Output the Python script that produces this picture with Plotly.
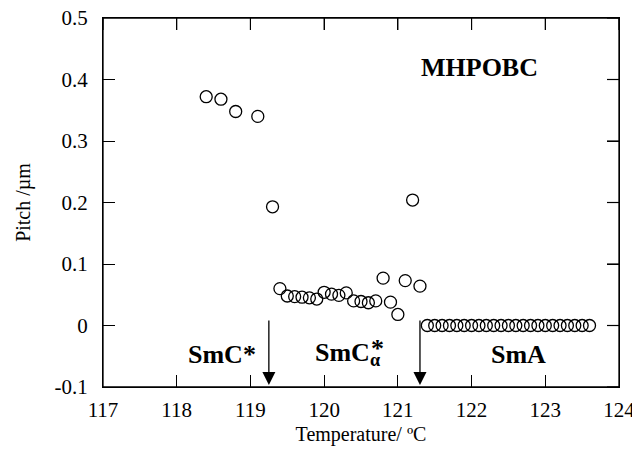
import plotly.graph_objects as go

# ---- data ----
temp = [118.4, 118.6, 118.8, 119.1, 119.3, 119.4, 119.5, 119.6, 119.7, 119.8,
        119.9, 120.0, 120.1, 120.2, 120.3, 120.4, 120.5, 120.6, 120.7, 120.8,
        120.9, 121.0, 121.1, 121.2, 121.3]
pitch = [0.372, 0.368, 0.348, 0.340, 0.193, 0.060, 0.048, 0.047, 0.046, 0.045,
         0.043, 0.054, 0.051, 0.049, 0.053, 0.040, 0.039, 0.037, 0.040, 0.077,
         0.038, 0.018, 0.073, 0.204, 0.064]
temp_sma = [121.4, 121.5, 121.6, 121.7, 121.8, 121.9, 122.0, 122.1, 122.2, 122.3,
            122.4, 122.5, 122.6, 122.7, 122.8, 122.9, 123.0, 123.1, 123.2, 123.3,
            123.4, 123.5, 123.6]
pitch_sma = [0.0] * len(temp_sma)

x_ticks = [117, 118, 119, 120, 121, 122, 123, 124]
x_ticktext = ["117", "118", "119", "120", "121", "122", "123", "124"]
y_ticks = [-0.1, 0.0, 0.1, 0.2, 0.3, 0.4, 0.5]
y_ticktext = ["-0.1", "0", "0.1", "0.2", "0.3", "0.4", "0.5"]

transitions = [119.25, 121.30]

SERIF = "Liberation Serif"

fig = go.Figure()
marker = dict(symbol="circle-open", size=12, color="black", line=dict(width=1.3, color="black"))
fig.add_trace(go.Scatter(x=temp + temp_sma, y=pitch + pitch_sma, mode="markers",
                         marker=marker, showlegend=False, cliponaxis=False))

tickfont = dict(family=SERIF, size=21, color="black")
axis_common = dict(showline=True, linecolor="black", linewidth=1.3, mirror="ticks",
                   ticks="inside", ticklen=12, tickwidth=1.2, tickcolor="black",
                   showgrid=False, zeroline=False, automargin=False,
                   ticklabeloverflow="allow")

fig.update_xaxes(range=[117, 124], tickvals=x_ticks, ticktext=x_ticktext,
                 tickfont=tickfont, ticklabelstandoff=4,
                 title=dict(text="Temperature/ ºC", font=dict(family=SERIF, size=20, color="black"),
                            standoff=6),
                 **axis_common)
fig.update_yaxes(range=[-0.1, 0.5], tickvals=y_ticks, ticktext=y_ticktext,
                 tickfont=tickfont, ticklabelstandoff=10,
                 title=dict(text="Pitch /µm", font=dict(family=SERIF, size=20, color="black"),
                            standoff=18),
                 **axis_common)

# explicit frame around the plotting area
fig.add_shape(type="rect", xref="paper", yref="paper", x0=0, x1=1, y0=0, y1=1,
              line=dict(color="black", width=1.3), layer="above")
# inward ticks on the top and right edges, at the axis tick values
for tv in x_ticks:
    fig.add_shape(type="line", xref="x", yref="paper", x0=tv, x1=tv, y0=1, y1=0.9675,
                  line=dict(color="black", width=1.2))
for tv in y_ticks:
    fig.add_shape(type="line", xref="paper", yref="y", x0=1, x1=0.9767, y0=tv, y1=tv,
                  line=dict(color="black", width=1.2))

bold = dict(family=SERIF, size=26, color="black")
annots = [
    dict(x=122.11, y=0.419, text="<b>MHPOBC</b>", showarrow=False, font=bold),
    dict(x=118.61, y=-0.047, text="<b>SmC*</b>", showarrow=False, font=bold),
    dict(x=119.85, y=-0.047, text="<b>SmC<sub>α</sub></b>", showarrow=False, font=bold,
         xanchor="left"),
    dict(x=120.72, y=-0.038, text="<b>*</b>", showarrow=False, font=bold),
    dict(x=122.63, y=-0.047, text="<b>SmA</b>", showarrow=False, font=bold),
]
for tx in transitions:
    annots.append(dict(x=tx, y=-0.0967, ax=tx, ay=0.0106, xref="x", yref="y",
                       axref="x", ayref="y", text="", showarrow=True,
                       arrowhead=2, arrowsize=2.0, arrowwidth=1.3, arrowcolor="black"))
fig.update_layout(annotations=annots)

# page body adds an 8px margin, so the figure is offset by (8, 8)
fig.update_layout(width=624, height=438, margin=dict(l=95, r=13, t=10, b=59),
                  plot_bgcolor="white", paper_bgcolor="white",
                  font=dict(family=SERIF, color="black"))

fig.write_html("out.html")
